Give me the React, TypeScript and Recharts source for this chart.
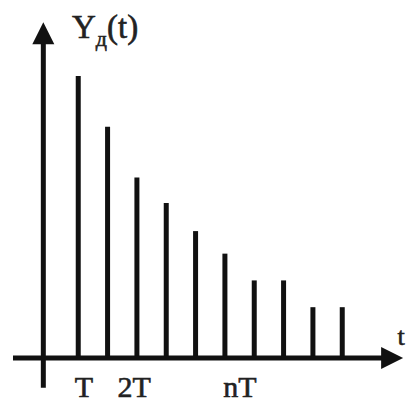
import React from "react";
import {
  ComposedChart,
  Bar,
  XAxis,
  YAxis,
  ReferenceLine,
  ReferenceDot,
} from "recharts";

// sample instants (in units of T) and sampled amplitudes
const times = [1, 2, 3, 4, 5, 6, 7, 8, 9, 10];
const amplitudes = [10, 8.2, 6.4, 5.5, 4.5, 3.7, 2.75, 2.75, 1.8, 1.8];

// labels under the time axis, placed loosely like the drawing
const tickLabels = ["T", "2T", "nT"];
const tickPositions = [1.19, 2.9, 6.51];

const data = times.map((t, i) => ({ t, y: amplitudes[i] }));

const INK = "#111";
const textStyle: React.CSSProperties = {
  fontFamily: "'Liberation Serif', 'DejaVu Serif', 'Times New Roman', serif",
  fill: "#222",
  stroke: "#222",
  strokeWidth: 0.6,
};

// axis line with a filled arrow head at its second end
const ArrowAxis = (props: any) => {
  const { x1, y1, x2, y2 } = props;
  const dx = x2 - x1;
  const dy = y2 - y1;
  const len = Math.sqrt(dx * dx + dy * dy) || 1;
  const ux = dx / len;
  const uy = dy / len;
  const head = 22;
  const half = 11;
  const bx = x2 - ux * head;
  const by = y2 - uy * head;
  return (
    <g>
      <line x1={x1} y1={y1} x2={bx + ux * 2} y2={by + uy * 2} stroke={INK} strokeWidth={5} />
      <polygon
        points={`${x2},${y2} ${bx - uy * half},${by + ux * half} ${bx + uy * half},${by - ux * half}`}
        fill={INK}
      />
    </g>
  );
};

const YTitle = (props: any) => {
  const { cx, cy } = props;
  return (
    <text x={cx} y={cy} style={{ ...textStyle, fontSize: 33 }}>
      Y
      <tspan style={{ fontSize: 22 }} dy={8}>
        д
      </tspan>
      <tspan dy={-8}>(t)</tspan>
    </text>
  );
};

const TTitle = (props: any) => {
  const { cx, cy } = props;
  return (
    <text x={cx} y={cy} textAnchor="middle" style={{ ...textStyle, fontSize: 26 }}>
      t
    </text>
  );
};

const TickText = (label: string) => (props: any) => {
  const { cx, cy } = props;
  return (
    <text x={cx} y={cy} textAnchor="middle" style={{ ...textStyle, fontSize: 30 }}>
      {label}
    </text>
  );
};

export default function App() {
  return (
    <div
      style={{
        position: "absolute",
        left: 0,
        top: 0,
        width: 409,
        height: 403,
        background: "#fff",
      }}
    >
      <ComposedChart
        width={409}
        height={403}
        data={data}
        margin={{ top: 0, right: 0, bottom: 0, left: 0 }}
      >
        <XAxis
          dataKey="t"
          type="number"
          domain={[-1.673, 12.27]}
          allowDataOverflow
          hide
        />
        <YAxis type="number" domain={[-1.6, 12.7]} allowDataOverflow hide />
        <Bar dataKey="y" fill={INK} barSize={5} isAnimationActive={false} />
        <ReferenceLine
          segment={[
            { x: -1.23, y: 0 },
            { x: 12.07, y: 0 },
          ]}
          shape={ArrowAxis}
        />
        <ReferenceLine
          segment={[
            { x: -0.196, y: -1.06 },
            { x: -0.196, y: 11.91 },
          ]}
          shape={ArrowAxis}
        />
        <ReferenceDot x={0.78} y={11.35} r={0} shape={YTitle} />
        <ReferenceDot x={12.0} y={0.45} r={0} shape={TTitle} />
        {tickLabels.map((lab, i) => (
          <ReferenceDot
            key={lab}
            x={tickPositions[i]}
            y={-1.4}
            r={0}
            shape={TickText(lab)}
          />
        ))}
      </ComposedChart>
    </div>
  );
}
